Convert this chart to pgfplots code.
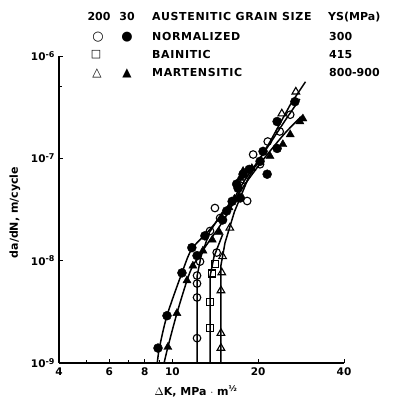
\documentclass[border=0pt]{standalone}
\usepackage{fontspec}
\setmainfont{DejaVu Sans}
\usepackage{pgfplots}
\pgfplotsset{compat=1.18}
\newcommand{\sci}[1]{10\raisebox{0.6ex}{\fontsize{8}{8}\selectfont #1}}
\begin{document}
\begin{tikzpicture}[font=\bfseries\fontsize{11}{13}\selectfont]
\useasboundingbox (-59pt,-41pt) rectangle (335pt,363pt);
\begin{axis}[
 at={(0,0)}, anchor=south west,
 scale only axis, width=285pt, height=307pt,
 xmode=log, ymode=log,
 xmin=4, xmax=40, ymin=1e-9, ymax=1e-6,
 axis x line*=bottom, axis y line*=left,
 axis line style={line width=1.1pt},
 tick align=inside, major tick length=4pt, minor tick length=3pt,
 tick style={line width=0.9pt, black},
 xtick={4,6,8,10,20,40}, xticklabels={4,6,8,10,20,40},
 minor xtick={5,7,9},
 ytick={1e-9,1e-8,1e-7,1e-6},
 yticklabels={\sci{-9},\sci{-8},\sci{-7},\sci{-6}},
 minor ytick={5e-7},
 ticklabel style={font=\bfseries\fontsize{10.5}{12}\selectfont},
 xticklabel style={yshift=-1pt},
 yticklabel style={xshift=-1pt},
 xlabel={$\Delta$K, MPa $\cdot$ m\raisebox{0.6ex}{\fontsize{8}{8}\selectfont ½}},
 ylabel={da/dN, m/cycle},
 xlabel style={at={(rel axis cs:0.48,0)}, anchor=center, yshift=-28pt},
 ylabel style={at={(rel axis cs:0,0.49)}, anchor=center, yshift=44pt},
 clip=false,
]
% fitted curves
\addplot[black, line width=1.5pt, smooth, no marks] coordinates {
(8.85,1e-9) (9.0,1.4e-9) (9.57,2.9e-9) (10.8,7.6e-9) (11.7,1.3e-8) (13.5,2.0e-8) (16,3.6e-8) (18,6.2e-8) (21,1.15e-7) (25,2.4e-7) (28,3.8e-7)};
\addplot[black, line width=1.5pt, smooth, no marks] coordinates {
(9.35,1e-9) (9.64,1.43e-9) (10.37,3.06e-9) (11.25,6.4e-9) (11.8,8.9e-9) (13,1.35e-8) (15,2.4e-8) (17.5,5e-8) (21,1.0e-7) (25,1.8e-7) (28.5,2.6e-7)};
\addplot[black, line width=1.5pt, no marks] coordinates {
(12.2,1e-9) (12.2,7e-9) (12.6,1.1e-8) (13.5,1.9e-8) (15,3.0e-8)};
\addplot[black, line width=1.5pt, no marks] coordinates {
(13.55,1e-9) (13.55,7e-9) (14.0,1.1e-8) (15,1.8e-8)};
\addplot[black, line width=1.5pt, no marks] coordinates {
(14.8,1e-9) (14.8,9e-9) (15.3,1.5e-8) (16.5,3e-8) (18.5,6.5e-8) (22,1.45e-7) (26,3.4e-7) (29.3,5.6e-7)};
% open circles: normalized 200
\addplot[only marks, mark=o, mark size=3.8pt, mark options={fill=white, line width=1.1pt}] coordinates {
(12.2,1.75e-9) (12.2,4.37e-9) (12.2,5.98e-9) (12.2,7.15e-9) (12.5,9.8e-9) (13.55,1.95e-8) (14.3,1.2e-8) (14.7,2.61e-8) (14.1,3.27e-8) (18.3,3.83e-8) (19.2,1.09e-7) (20.3,8.75e-8) (21.6,1.46e-7) (23.8,1.83e-7) (25.9,2.67e-7) (17.8,6.2e-8)};
% squares: bainitic 200
\addplot[only marks, mark=square, mark size=3.5pt, mark options={fill=white, line width=1.1pt}] coordinates {
(13.55,2.19e-9) (13.55,3.91e-9) (13.8,7.5e-9) (14.1,9.35e-9)};
% open triangles: martensitic 200
\addplot[only marks, mark=triangle, mark size=4.4pt, mark options={fill=white, line width=1.1pt}] coordinates {
(14.8,1.40e-9) (14.8,1.96e-9) (14.8,5.11e-9) (14.9,7.65e-9) (15.0,1.1e-8) (15.9,2.09e-8) (24.2,2.73e-7) (27.1,4.47e-7)};
% filled circles: normalized 30
\addplot[only marks, mark=*, mark size=4.5pt, mark options={fill=black}] coordinates {
(8.9,1.4e-9) (9.57,2.9e-9) (10.8,7.6e-9) (11.7,1.34e-8) (12.2,1.12e-8) (13.0,1.75e-8) (15.5,3.06e-8) (17.3,4.1e-8) (17.0,5.1e-8) (17.7,7.0e-8) (20.3,9.35e-8) (20.8,1.17e-7) (21.5,7.0e-8) (23.3,1.25e-7) (23.3,2.29e-7) (26.9,3.58e-7) (16.2,3.8e-8) (15.0,2.5e-8) (16.8,5.6e-8) (18.6,7.8e-8)};
% filled triangles: martensitic 30
\addplot[only marks, mark=triangle*, mark size=4.7pt, mark options={fill=black}] coordinates {
(9.64,1.43e-9) (10.37,3.06e-9) (11.25,6.4e-9) (11.8,8.9e-9) (12.8,1.25e-8) (14.6,1.9e-8) (16.5,4.0e-8) (17.3,6.4e-8) (17.7,7.5e-8) (19.0,8.0e-8) (24.4,1.37e-7) (25.9,1.71e-7) (28.0,2.29e-7) (28.7,2.44e-7) (22,1.05e-7) (15.8,3.3e-8) (13.8,1.6e-8)};
\end{axis}
% legend (text)
\begin{scope}[every node/.style={inner sep=0pt}]
\node[anchor=center] at (40pt,346pt) {200};
\node[anchor=center] at (68pt,346pt) {30};
\node[anchor=west] at (93pt,346pt) {\addfontfeatures{LetterSpace=6}AUSTENITIC GRAIN SIZE};
\node[anchor=west] at (269pt,346pt) {YS(MPa)};
\node[anchor=center] at (39pt,326pt) {\fontsize{13}{13}\selectfont ○};
\node[anchor=center] at (68pt,326pt) {\fontsize{13}{13}\selectfont ●};
\node[anchor=west] at (93pt,326pt) {\addfontfeatures{LetterSpace=6}NORMALIZED};
\node[anchor=west] at (270pt,326pt) {300};
\node[anchor=center] at (37pt,308pt) {\fontsize{11}{11}\selectfont □};
\node[anchor=west] at (93pt,308pt) {\addfontfeatures{LetterSpace=6}BAINITIC};
\node[anchor=west] at (270pt,308pt) {415};
\node[anchor=center] at (38pt,290pt) {\fontsize{12}{12}\selectfont △};
\node[anchor=center] at (68pt,290pt) {\fontsize{12}{12}\selectfont ▲};
\node[anchor=west] at (93pt,290pt) {\addfontfeatures{LetterSpace=6}MARTENSITIC};
\node[anchor=west] at (270pt,290pt) {800-900};
\end{scope}
\end{tikzpicture}
\end{document}
